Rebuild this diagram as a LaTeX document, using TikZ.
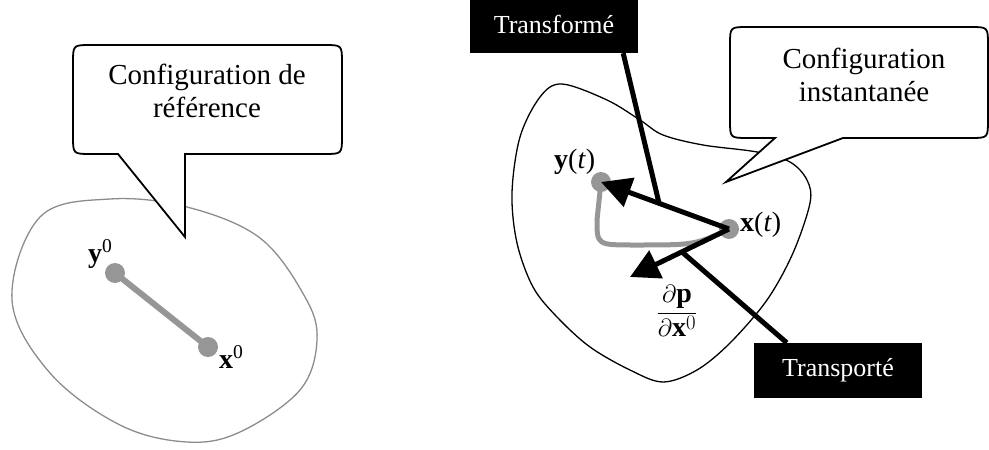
\documentclass[tikz,border=0pt]{standalone}
\usepackage{fontspec}
\setmainfont{Liberation Serif}
\usetikzlibrary{arrows.meta}
\definecolor{dotgray}{RGB}{150,150,150}
\definecolor{blobgray}{RGB}{140,140,140}
\begin{document}
\begin{tikzpicture}[x=1pt,y=-1pt,
  callout/.style={draw=black, line width=1.8pt, fill=white, line join=miter},
  blob/.style={line width=1.3pt},
  dot/.style={circle, fill=dotgray, inner sep=0pt, minimum size=20pt},
  lbl/.style={font=\fontsize{28}{30}\selectfont, inner sep=0pt, anchor=base west},
  ctext/.style={font=\fontsize{29}{33}\selectfont, align=center, inner sep=0pt},
  darkbox/.style={fill=black, text=white, font=\fontsize{26}{30}\selectfont, minimum width=168pt, inner sep=0pt},
  blackline/.style={line width=5pt},
  arrowline/.style={line width=5pt, -{Triangle[length=30pt,width=30pt]}},
  grayline/.style={draw=dotgray, line width=5pt},
]
\useasboundingbox (0,0) rectangle (989,450);

% left body (reference configuration)
\draw[blob, draw=blobgray] plot[smooth cycle, tension=0.6] coordinates {
  (40,217) (110,199) (187,207) (260,238) (305,297) (317,340) (300,390)
  (240,432) (187,442) (120,425) (50,373) (12,300)};

% right body (current configuration)
\draw[blob, draw=black] plot[smooth cycle, tension=0.55] coordinates {
  (562,84) (607,100) (640,120) (663,135) (703,145) (757,152) (790,162)
  (807,180) (810,203) (793,253) (767,300) (730,343) (697,370) (663,382)
  (630,370) (590,347) (557,317) (533,287) (517,243) (512,193) (520,137) (540,97)};

% left callout
\draw[callout] (91,45) -- (324,45) .. controls (342,45) .. (342,63) -- (342,136)
  .. controls (342,154) .. (324,154) -- (185,154) -- (185,237) -- (118,154)
  -- (91,154) .. controls (73,154) .. (73,136) -- (73,63) .. controls (73,45) .. (91,45) -- cycle;
\node[ctext] (reftext) at (207,91) {Configuration de\\référence};

% right callout
\draw[callout] (748,27) -- (970,27) .. controls (988,27) .. (988,45) -- (988,120)
  .. controls (988,138) .. (970,138) -- (843,138) -- (726,182) -- (775,138)
  -- (748,138) .. controls (730,138) .. (730,120) -- (730,45) .. controls (730,27) .. (748,27) -- cycle;
\node[ctext] (insttext) at (864,75) {Configuration\\instantanée};

% left segment
\node[dot] (y0dot) at (115,273) {};
\node[dot] (x0dot) at (208,347) {};
\draw[draw=dotgray, line width=6pt] (y0dot.center) -- (x0dot.center);
\node[lbl] (y0) at (88,262) {\textbf{y}\textsuperscript{0}};
\node[lbl] (x0) at (219,368) {\textbf{x}\textsuperscript{0}};

% right: points and transported curve
\node[dot] (yt) at (601,182) {};
\node[dot] (xt) at (729,229) {};
\draw[grayline, line cap=round] (yt.center) -- (597,220) .. controls (597,245) .. (635,245)
  .. controls (695,245) .. (xt.center);

% vectors
\coordinate (dtip) at (630,277);
\draw[arrowline] (xt.center) -- (yt.center);
\draw[line width=5pt, -{Triangle[length=29pt,width=30pt]}] (xt.center) -- (dtip);

% labels
\node[lbl] (ytl) at (554,168) {\textbf{y}(\textit{t})};
\node[lbl] (xtl) at (740,231) {\textbf{x}(\textit{t})};
\node[font=\fontsize{28}{30}\selectfont, inner sep=0pt] (frac) at (677,311)
  {$\displaystyle\frac{\partial\textbf{p}}{\partial\textbf{x}^{0}}$};

% annotation boxes
\coordinate (tfoot) at (659,203);
\coordinate (pfoot) at (682,252);
\node[darkbox, minimum height=58pt] (tbox) at (554,24) {Transformé};
\node[darkbox, minimum height=55pt] (pbox) at (838,370.5) {Transporté};
\draw[blackline] ([xshift=-15pt]tbox.south east) -- (tfoot);
\draw[blackline] (pfoot) -- ([xshift=33pt]pbox.north west);
\end{tikzpicture}
\end{document}
